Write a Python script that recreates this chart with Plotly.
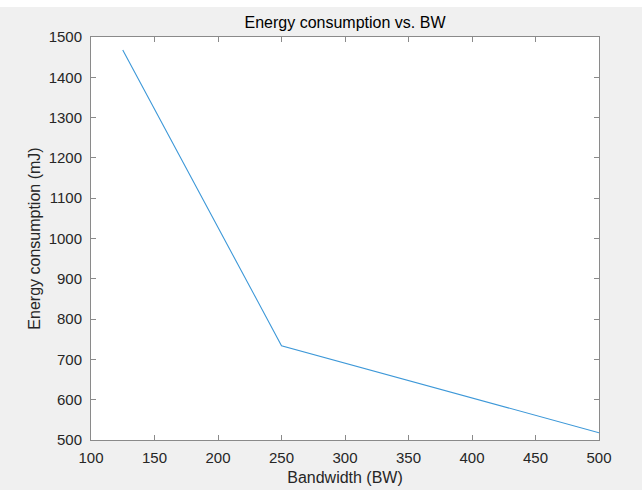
import plotly.graph_objects as go

bandwidth = [125, 250, 500]
energy = [1468, 734, 518]

x_ticks = [100, 150, 200, 250, 300, 350, 400, 450, 500]
y_ticks = [500, 600, 700, 800, 900, 1000, 1100, 1200, 1300, 1400, 1500]

FONT = "Liberation Sans, Arial"

fig = go.Figure()
fig.add_trace(go.Scatter(x=bandwidth, y=energy, mode="lines",
                         line=dict(color="#3d98d8", width=1.1)))

axis_common = dict(showgrid=False, zeroline=False, showline=True, linecolor="#8a8a8a",
                   linewidth=1, ticks="inside", ticklen=5, tickcolor="#8a8a8a",
                   mirror="ticks", automargin=False,
                   tickfont=dict(family=FONT, size=15, color="#262626"))

fig.update_layout(
    width=642, height=490,
    margin=dict(l=91, r=43, t=37, b=50),
    paper_bgcolor="#f0f0f0", plot_bgcolor="white",
    showlegend=False,
    title=dict(text="Energy consumption vs. BW", x=(91 + 599) / 2 / 642, xanchor="center",
               y=1 - 22 / 490, yanchor="middle", yref="container",
               font=dict(family=FONT, size=16, color="#000000")),
    xaxis=dict(range=[100, 500], tickvals=x_ticks, ticklabelstandoff=4,
               title=dict(text="Bandwidth (BW)", standoff=6,
                          font=dict(family=FONT, size=16, color="#262626")),
               **axis_common),
    yaxis=dict(range=[500, 1500], tickvals=y_ticks, ticklabelstandoff=5,
               title=dict(text="Energy consumption (mJ)", standoff=4,
                          font=dict(family=FONT, size=16, color="#262626")),
               **axis_common),
)

fig.add_shape(type="rect", xref="paper", yref="paper", x0=-0.3, x1=1.2,
              y0=1 + 30 / 403, y1=1 + 40 / 403, fillcolor="white", line=dict(width=0),
              layer="below")

fig.write_html("out.html")
